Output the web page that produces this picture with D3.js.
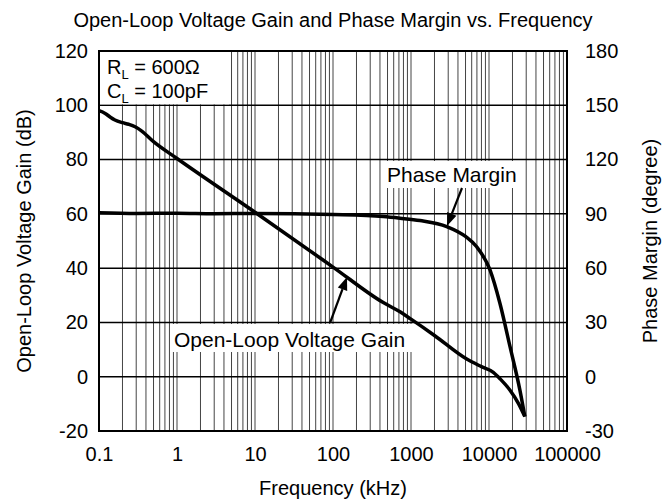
<!DOCTYPE html>
<html>
<head>
    <meta charset="utf-8">
    <script type="text/javascript" src="https://cdn.jsdelivr.net/npm/d3@7/dist/d3.min.js"></script>
    <style>
        body { margin: 0; background: #fff; }
        text { font-family: "Liberation Sans", Arial, sans-serif; fill: #000; }
    </style>
</head>
<body>
    <div id="viz"></div>
    <script type="text/javascript">

    // data, frequency in kHz
    var gainFreq = [0.1, 0.12, 0.14, 0.16, 0.2, 0.24, 0.29, 0.35, 0.5, 1, 10, 100, 441, 723, 1000, 2000, 5180, 8000, 11350, 14000, 18600, 24000, 28800];
    var gainDb   = [98, 97, 95.6, 94.6, 93.6, 93, 92.1, 90.6, 86.6, 80.4, 60.6, 40.4, 27.3, 23.9, 21.2, 15.2, 6.5, 3.7, 1.6, -0.9, -5, -10, -14.7];

    var phaseFreq = [0.1, 0.3, 1, 3, 10, 100, 441, 723, 1303, 2870, 5000, 6950, 10300, 13800, 18600, 24900, 28800];
    var phaseDeg  = [90.6, 90.2, 90.4, 90.1, 90.2, 89.6, 88.5, 87.6, 86.3, 83, 77.5, 71.8, 59, 40.6, 16.6, -7.4, -22];

    var xTicks = [0.1, 1, 10, 100, 1000, 10000, 100000];
    var leftTicks = [-20, 0, 20, 40, 60, 80, 100, 120];
    var rightTicks = [-30, 0, 30, 60, 90, 120, 150, 180];

    // plot box (careful: "top" is taken by window)
    var W = 670, H = 503;
    var pL = 99, pT = 51, pR = 567, pB = 431;

    var svg = d3.select("#viz").append("svg")
        .attr("width", W)
        .attr("height", H);

    var x = d3.scaleLog().domain([0.1, 100000]).range([pL, pR]);
    var y = d3.scaleLinear().domain([-20, 120]).range([pB, pT]);
    var y2 = d3.scaleLinear().domain([-30, 180]).range([pB, pT]);

    // vertical grid (every 1..9 per decade)
    svg.append("g").selectAll("line")
        .data(x.ticks())
        .enter().append("line")
        .attr("x1", function(d) { return x(d); })
        .attr("x2", function(d) { return x(d); })
        .attr("y1", pT)
        .attr("y2", pB)
        .style("stroke", "#444")
        .style("stroke-width", 1);

    // horizontal grid
    svg.append("g").selectAll("line")
        .data(leftTicks)
        .enter().append("line")
        .attr("x1", pL)
        .attr("x2", pR)
        .attr("y1", function(d) { return y(d); })
        .attr("y2", function(d) { return y(d); })
        .style("stroke", "#000")
        .style("stroke-width", 1.5);

    // white box behind the RL / CL note
    svg.append("rect")
        .attr("x", pL + 1)
        .attr("y", pT + 1)
        .attr("width", 129)
        .attr("height", y(100) - pT - 2)
        .style("fill", "#fff");

    // frame
    svg.append("rect")
        .attr("x", pL)
        .attr("y", pT)
        .attr("width", pR - pL)
        .attr("height", pB - pT)
        .style("fill", "none")
        .style("stroke", "#000")
        .style("stroke-width", 2);

    // curves
    var gainLine = d3.line()
        .x(function(d, i) { return x(gainFreq[i]); })
        .y(function(d) { return y(d); })
        .curve(d3.curveMonotoneX);

    var phaseLine = d3.line()
        .x(function(d, i) { return x(phaseFreq[i]); })
        .y(function(d) { return y2(d); })
        .curve(d3.curveMonotoneX);

    svg.append("path")
        .attr("d", gainLine(gainDb))
        .style("fill", "none")
        .style("stroke", "#000")
        .style("stroke-width", 3.5)
        .style("stroke-linejoin", "round");

    svg.append("path")
        .attr("d", phaseLine(phaseDeg))
        .style("fill", "none")
        .style("stroke", "#000")
        .style("stroke-width", 3.5)
        .style("stroke-linejoin", "round");

    // axes (labels only), plain hyphen for negatives like the original
    var plain = function(d) { return d < 1 && d > 0 ? "0.1" : String(d); };

    var gx = svg.append("g").attr("transform", "translate(0," + pB + ")")
        .call(d3.axisBottom(x).tickValues(xTicks).tickSize(0).tickPadding(16).tickFormat(plain));

    var gl = svg.append("g").attr("transform", "translate(" + pL + ",0)")
        .call(d3.axisLeft(y).tickValues(leftTicks).tickSize(0).tickPadding(11).tickFormat(plain));

    var gr = svg.append("g").attr("transform", "translate(" + pR + ",0)")
        .call(d3.axisRight(y2).tickValues(rightTicks).tickSize(0).tickPadding(18).tickFormat(plain));

    [gx, gl, gr].forEach(function(g) {
        g.select(".domain").remove();
        g.selectAll("text")
            .style("font-family", "'Liberation Sans', Arial, sans-serif")
            .style("font-size", "20px")
            .style("fill", "#000");
    });

    // titles
    svg.append("text")
        .attr("x", (pL + pR) / 2)
        .attr("y", 27)
        .attr("text-anchor", "middle")
        .style("font-size", "20px")
        .text("Open-Loop Voltage Gain and Phase Margin vs. Frequency");

    svg.append("text")
        .attr("x", (pL + pR) / 2)
        .attr("y", 495)
        .attr("text-anchor", "middle")
        .style("font-size", "20px")
        .text("Frequency (kHz)");

    svg.append("text")
        .attr("transform", "translate(31," + (pT + pB) / 2 + ") rotate(-90)")
        .attr("text-anchor", "middle")
        .style("font-size", "20px")
        .text("Open-Loop Voltage Gain (dB)");

    svg.append("text")
        .attr("transform", "translate(657," + (pT + pB) / 2 + ") rotate(-90)")
        .attr("text-anchor", "middle")
        .style("font-size", "20px")
        .text("Phase Margin (degree)");

    // RL / CL note
    function subNote(yy, a, b) {
        var t = svg.append("text").attr("x", 107).attr("y", yy).style("font-size", "20px");
        t.append("tspan").text(a);
        t.append("tspan").attr("dy", 5).style("font-size", "13px").text("L");
        t.append("tspan").attr("dy", -5).text(b);
    }
    subNote(74, "R", " = 600\u03A9");
    subNote(98, "C", " = 100pF");

    // annotation labels with arrows
    function arrow(x1, y1, x2, y2) {
        var ang = Math.atan2(y2 - y1, x2 - x1);
        var len = 13, wid = 5;
        var bx = x2 - len * Math.cos(ang), by = y2 - len * Math.sin(ang);
        svg.append("line")
            .attr("x1", x1).attr("y1", y1).attr("x2", bx).attr("y2", by)
            .style("stroke", "#000").style("stroke-width", 2.2);
        var px = -Math.sin(ang) * wid, py = Math.cos(ang) * wid;
        svg.append("path")
            .attr("d", "M" + x2 + "," + y2 + "L" + (bx + px) + "," + (by + py) + "L" + (bx - px) + "," + (by - py) + "Z")
            .style("fill", "#000");
    }

    function label(txt, tx, ty, bx, by, bw, bh) {
        svg.append("rect")
            .attr("x", bx).attr("y", by).attr("width", bw).attr("height", bh)
            .style("fill", "#fff");
        svg.append("text")
            .attr("x", tx).attr("y", ty)
            .style("font-size", "21px")
            .text(txt);
    }

    label("Phase Margin", 387, 182, 383, 161, 139, 27);
    arrow(462, 188, 447, 226);

    label("Open-Loop Voltage Gain", 174, 347, 170, 324, 242, 28);
    arrow(330, 323, 347, 277);

    </script>
</body>
</html>
